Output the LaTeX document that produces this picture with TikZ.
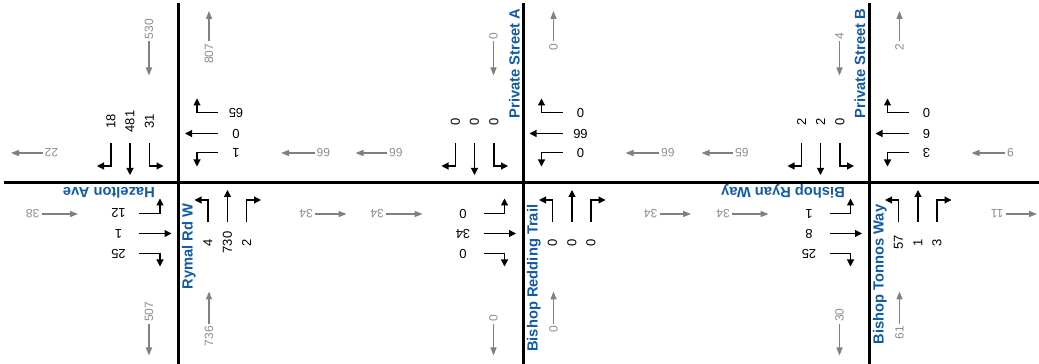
\documentclass[tikz,border=0pt]{standalone}
\usepackage{fontspec}
\setmainfont{Liberation Sans}
\usetikzlibrary{arrows.meta}
\definecolor{roadblue}{RGB}{16,90,166}
\definecolor{volgrey}{RGB}{128,128,128}
\definecolor{txtgrey}{RGB}{140,140,140}
\tikzset{
  road/.style={line width=3pt},
  mv/.style={line width=1.1pt, -{Triangle[length=7pt,width=7pt]}},
  vol/.style={line width=1.4pt, volgrey, -{Triangle[length=8pt,width=6pt]}},
  num/.style={inner sep=0pt, font=\fontsize{13}{14}\selectfont},
  gnum/.style={inner sep=0pt, text=txtgrey, font=\fontsize{12}{13}\selectfont},
  street/.style={inner sep=0pt, text=roadblue, font=\bfseries\fontsize{14.7}{16}\selectfont},
}
\newcommand{\turnarrows}{%
  \draw[mv] (-67.5,39) -- (-67.5,16.5) -- (-81.5,16.5);
  \draw[mv] (-48.5,39) -- (-48.5,7.5);
  \draw[mv] (-29,39) -- (-29,16.5) -- (-15,16.5);
  \draw[mv] (39.5,70) -- (18.5,70) -- (18.5,84);
  \draw[mv] (39.5,49) -- (6.5,49);
  \draw[mv] (39.5,30) -- (18.5,30) -- (18.5,16);
  \draw[mv] (-39.5,-31) -- (-18.5,-31) -- (-18.5,-16);
  \draw[mv] (-39.5,-51) -- (-7,-51);
  \draw[mv] (-39.5,-71) -- (-18.5,-71) -- (-18.5,-84);
  \draw[mv] (29.5,-40) -- (29.5,-17.5) -- (16,-17.5);
  \draw[mv] (49,-40) -- (49,-7.5);
  \draw[mv] (68,-40) -- (68,-17.5) -- (82.5,-17.5);
}
\newcommand{\toplabels}[7]{%
  \node[num,rotate=90] (#1sbR) at (-67.5,61) {#2};
  \node[num,rotate=90] (#1sbT) at (-48.5,61) {#3};
  \node[num,rotate=90] (#1sbL) at (-29,61) {#4};
  \node[num,rotate=180] (#1wbR) at (57.5,70) {#5};
  \node[num,rotate=180] (#1wbT) at (57.5,49) {#6};
  \node[num,rotate=180] (#1wbL) at (57.5,30) {#7};
}
\newcommand{\bottomlabels}[7]{%
  \node[num,rotate=180] (#1ebL) at (-60,-31) {#2};
  \node[num,rotate=180] (#1ebT) at (-60,-51) {#3};
  \node[num,rotate=180] (#1ebR) at (-60,-71) {#4};
  \node[num,rotate=90] (#1nbL) at (29.5,-60) {#5};
  \node[num,rotate=90] (#1nbT) at (49,-60) {#6};
  \node[num,rotate=90] (#1nbR) at (68,-60) {#7};
}
\newcommand{\volumes}[9]{%
  \node[gnum,rotate=90,anchor=west] (#1sbin) at (-29.5,143) {#2};
  \draw[vol] (-29.5,141) -- (-29.5,107);
  \node[gnum,rotate=90,anchor=east] (#1nbout) at (30.5,139) {#3};
  \draw[vol] (30.5,141) -- (30.5,171.5);
  \node[gnum,rotate=180,anchor=east] (#1wbout) at (-134,29.5) {#4};
  \draw[vol] (-136,29.5) -- (-167.5,29.5);
  \node[gnum,rotate=180,anchor=west] (#1ebin) at (-139,-31.5) {#5};
  \draw[vol] (-137,-31.5) -- (-100.5,-31.5);
  \node[gnum,rotate=180,anchor=east] (#1wbin) at (138,29.5) {#6};
  \draw[vol] (136,29.5) -- (102.5,29.5);
  \node[gnum,rotate=180,anchor=west] (#1ebout) at (134.5,-31.5) {#7};
  \draw[vol] (136.5,-31.5) -- (168,-31.5);
  \node[gnum,rotate=90,anchor=west] (#1sbout) at (-29.5,-139.5) {#8};
  \draw[vol] (-29.5,-141.5) -- (-29.5,-173);
  \node[gnum,rotate=90,anchor=east] (#1nbin) at (30.5,-143.5) {#9};
  \draw[vol] (30.5,-141.5) -- (30.5,-109);
}
\begin{document}
\begin{tikzpicture}[x=1pt,y=1pt]
  \useasboundingbox (0,0) rectangle (1039,364);
  \fill[white] (0,0) rectangle (1039,364);
  % roads
  \draw[road] (4.3,181.5) -- (1039,181.5);
  \draw[road] (178.5,361) -- (178.5,0);
  \draw[road] (523,361) -- (523,0);
  \draw[road] (869,361) -- (869,0);
  % intersection 1
  \begin{scope}[shift={(178.5,181.5)}]
    \turnarrows
    \toplabels{a}{18}{481}{31}{65}{0}{1}
    \bottomlabels{a}{12}{1}{25}{4}{730}{2}
    \volumes{a}{530}{807}{22}{38}{66}{34}{507}{736}
    \node[street,rotate=180,anchor=base west] (hazelton) at (-23.5,-5.5) {Hazelton Ave};
    \node[street,rotate=90,anchor=base east] (rymal) at (14,-21) {Rymal Rd W};
  \end{scope}
  % intersection 2
  \begin{scope}[shift={(523,181.5)}]
    \turnarrows
    \toplabels{b}{0}{0}{0}{0}{66}{0}
    \bottomlabels{b}{0}{34}{0}{0}{0}{0}
    \volumes{b}{0}{0}{66}{34}{66}{34}{0}{0}
    \node[street,rotate=90,anchor=base west] (privA) at (-3.5,64) {Private Street A};
    \node[street,rotate=90,anchor=base east] (redding) at (14.5,-22) {Bishop Redding Trail};
  \end{scope}
  % intersection 3
  \begin{scope}[shift={(869,181.5)}]
    \turnarrows
    \toplabels{c}{2}{2}{0}{0}{6}{3}
    \bottomlabels{c}{1}{8}{25}{57}{1}{3}
    \volumes{c}{4}{2}{65}{34}{9}{11}{30}{61}
    \node[street,rotate=90,anchor=base west] (privB) at (-4,64) {Private Street B};
    \node[street,rotate=90,anchor=base east] (tonnos) at (14.5,-22) {Bishop Tonnos Way};
    \node[street,rotate=180,anchor=base west] (ryan) at (-24,-5.5) {Bishop Ryan Way};
  \end{scope}
\end{tikzpicture}
\end{document}
